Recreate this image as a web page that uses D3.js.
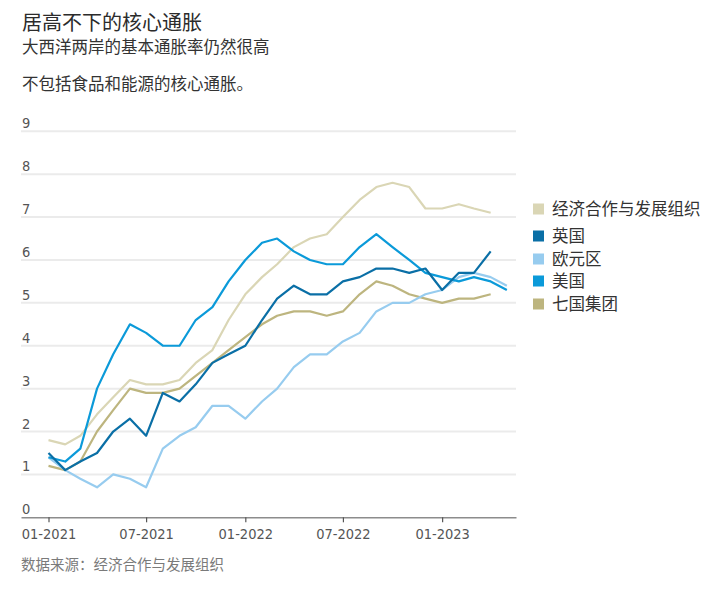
<!DOCTYPE html>
<html lang="zh">
<head>
    <title>居高不下的核心通胀</title>
    <meta charset="utf-8">
    <style>
        body {
            margin: 0;
            background: #fff;
        }
        text {
            font-family: "Noto Sans CJK SC", "Noto Sans", sans-serif;
        }
        .num {
            font-family: "Liberation Sans Narrow", "DejaVu Sans Condensed", Roboto, sans-serif;
        }
    </style>
    <script src="https://d3js.org/d3.v7.min.js"></script>
</head>

<body>
<div id="chart"></div>

<script>

    // months shown: Jan 2021 .. May 2023
    const months = d3.timeMonth.range(new Date(2021, 0, 1), new Date(2023, 5, 1));
    const xTicks = ["2021-01", "2021-07", "2022-01", "2022-07", "2023-01"];
    const yTicks = [0, 1, 2, 3, 4, 5, 6, 7, 8, 9];

    // series names (legend order)
    const names = ["经济合作与发展组织", "英国", "欧元区", "美国", "七国集团"];

    // core inflation, %
    const oecd = [1.8, 1.7, 1.9, 2.4, 2.8, 3.2, 3.1, 3.1, 3.2, 3.6, 3.9, 4.6,
        5.2, 5.6, 5.9, 6.3, 6.5, 6.6, 7.0, 7.4, 7.7, 7.8, 7.7, 7.2,
        7.2, 7.3, 7.2, 7.1];
    const uk = [1.5, 1.1, 1.3, 1.5, 2.0, 2.3, 1.9, 2.9, 2.7, 3.1, 3.6, 3.8,
        4.0, 4.6, 5.1, 5.4, 5.2, 5.2, 5.5, 5.6, 5.8, 5.8, 5.7, 5.8,
        5.3, 5.7, 5.7, 6.2];
    const euro = [1.4, 1.1, 0.9, 0.7, 1.0, 0.9, 0.7, 1.6, 1.9, 2.1, 2.6, 2.6,
        2.3, 2.7, 3.0, 3.5, 3.8, 3.8, 4.1, 4.3, 4.8, 5.0, 5.0, 5.2,
        5.3, 5.6, 5.7, 5.6, 5.4];
    const us = [1.4, 1.3, 1.6, 3.0, 3.8, 4.5, 4.3, 4.0, 4.0, 4.6, 4.9, 5.5,
        6.0, 6.4, 6.5, 6.2, 6.0, 5.9, 5.9, 6.3, 6.6, 6.3, 6.0, 5.7,
        5.6, 5.5, 5.6, 5.5, 5.3];
    const g7 = [1.2, 1.1, 1.3, 2.0, 2.5, 3.0, 2.9, 2.9, 3.0, 3.3, 3.6, 3.9,
        4.2, 4.5, 4.7, 4.8, 4.8, 4.7, 4.8, 5.2, 5.5, 5.4, 5.2, 5.1,
        5.0, 5.1, 5.1, 5.2];

    const colors = {
        "经济合作与发展组织": "#dad6b5",
        "英国": "#0a6fa6",
        "欧元区": "#97ccef",
        "美国": "#0b9ad9",
        "七国集团": "#bdb57f"
    };

    const series = [
        {name: "经济合作与发展组织", values: oecd},
        {name: "七国集团", values: g7},
        {name: "欧元区", values: euro},
        {name: "美国", values: us},
        {name: "英国", values: uk}
    ];

    const width = 722, height = 589;

    const svg = d3.select("#chart")
        .append("svg")
        .attr("width", width)
        .attr("height", height);

    const x = d3.scaleTime()
        .domain([new Date(2020, 10, 11), new Date(2023, 4, 18)])
        .range([21, 516]);
    const y = d3.scaleLinear()
        .domain([0, 9])
        .range([517.3, 131.3]);

    // titles
    svg.append("text")
        .attr("x", 22).attr("y", 29.5)
        .attr("font-size", "20px")
        .attr("fill", "#2b2b2b")
        .text("居高不下的核心通胀");
    svg.append("text")
        .attr("x", 22).attr("y", 53)
        .attr("font-size", "16.5px")
        .attr("fill", "#333")
        .text("大西洋两岸的基本通胀率仍然很高");
    svg.append("text")
        .attr("x", 22).attr("y", 89.5)
        .attr("font-size", "16.5px")
        .attr("fill", "#333")
        .text("不包括食品和能源的核心通胀。");

    // gridlines
    svg.append("g")
        .selectAll("line")
        .data(yTicks.filter(d => d > 0))
        .join("line")
        .attr("x1", 21)
        .attr("x2", 516)
        .attr("y1", d => y(d))
        .attr("y2", d => y(d))
        .attr("stroke", "#ebebeb")
        .attr("stroke-width", 2);

    // y labels sit above their gridline
    svg.append("g")
        .selectAll("text")
        .data(yTicks)
        .join("text")
        .attr("class", "num")
        .attr("x", 22)
        .attr("y", d => y(d) - 3)
        .attr("font-size", "14.5px")
        .attr("fill", "#555")
        .text(d => d);

    // x axis
    const parseMonth = d3.timeParse("%Y-%m");
    const xAxis = svg.append("g")
        .attr("transform", `translate(0,${y(0)})`)
        .call(d3.axisBottom(x)
            .tickValues(xTicks.map(parseMonth))
            .tickFormat(d3.timeFormat("%m-%Y"))
            .tickSize(5)
            .tickSizeOuter(0));
    xAxis.select(".domain")
        .attr("stroke", "#8c8c8c")
        .attr("stroke-width", 1.5);
    xAxis.selectAll(".tick line")
        .attr("stroke", "#555")
        .attr("stroke-width", 1.2);
    xAxis.selectAll(".tick text")
        .attr("class", "num")
        .attr("font-size", "14.5px")
        .attr("fill", "#555")
        .attr("dy", "0.95em");

    // lines
    const line = d3.line()
        .x((d, i) => x(months[i]))
        .y(d => y(d));

    svg.append("g")
        .selectAll("path")
        .data(series)
        .join("path")
        .attr("fill", "none")
        .attr("stroke", d => colors[d.name])
        .attr("stroke-width", 2.2)
        .attr("stroke-linejoin", "round")
        .attr("d", d => line(d.values));

    // legend
    const legendY = [209, 236, 259, 281, 304];
    const legend = svg.append("g")
        .selectAll("g")
        .data(names)
        .join("g")
        .attr("transform", (d, i) => `translate(533,${legendY[i]})`);
    legend.append("rect")
        .attr("x", 0).attr("y", -5.5)
        .attr("width", 11).attr("height", 11)
        .attr("fill", d => colors[d]);
    legend.append("text")
        .attr("x", 19)
        .attr("dy", "0.36em")
        .attr("font-size", "16.5px")
        .attr("fill", "#333")
        .text(d => d);

    // source (centred full-width colon as in the original)
    const source = svg.append("text")
        .attr("x", 21).attr("y", 570)
        .attr("font-size", "14.5px")
        .attr("fill", "#7a7a7a");
    source.append("tspan").text("数据来源");
    source.append("tspan").style("font-family", "'Noto Sans CJK TC'").text("：");
    source.append("tspan").text("经济合作与发展组织");

</script>
</body>
</html>
